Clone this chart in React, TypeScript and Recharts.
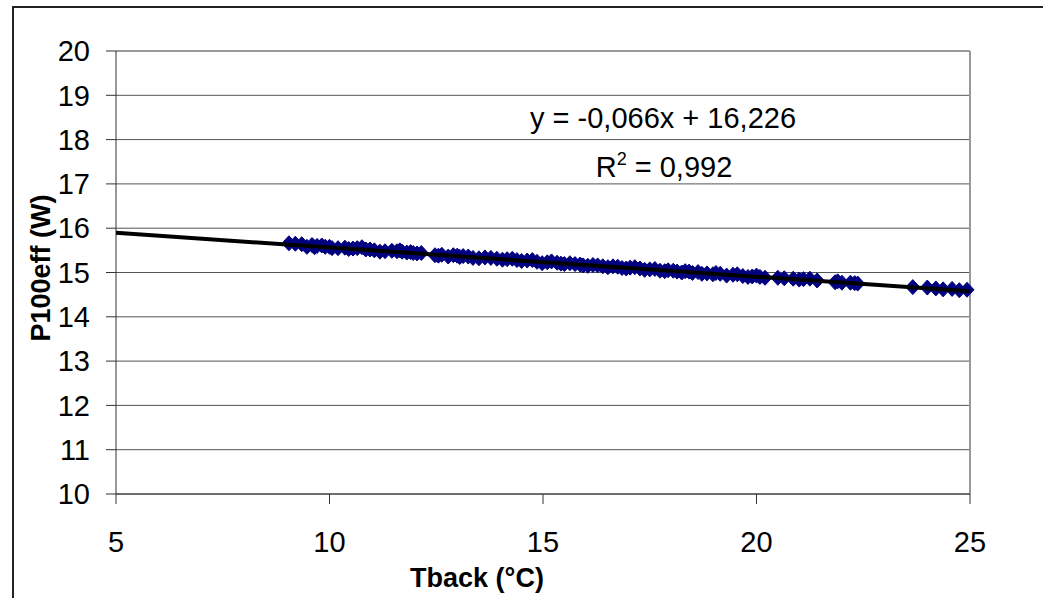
import React from "react";
import { ScatterChart, Scatter, XAxis, YAxis, CartesianGrid, ReferenceLine } from "recharts";

const tbackValues = [
  9.05, 9.2, 9.47, 9.59, 9.71, 9.82, 9.9, 10.06, 10.36, 10.55, 10.76, 10.95, 11.18, 11.46, 11.58, 11.7,
  11.81, 11.96, 12.05, 12.47, 12.63, 12.78, 12.99, 13.13, 13.36, 13.64, 13.92, 14.16, 14.39, 14.63, 14.86,
  15.1, 15.33, 15.5, 15.63, 15.87, 15.94, 16.17, 16.4, 16.64, 16.85, 17.04, 17.27, 17.5, 17.74, 17.93,
  18.14, 18.33, 18.5, 18.63, 18.84, 18.98, 19.15, 19.45, 19.68, 19.9, 20.08, 20.5, 20.86, 21.1, 21.42,
  21.84, 22.0, 22.3, 22.37, 23.66, 24.0, 24.37, 24.58, 24.93,
  9.35, 9.65, 10.0, 10.2, 10.45, 10.65, 10.85, 11.05, 11.3, 11.65, 11.9, 12.15, 12.55, 12.9, 13.05, 13.25,
  13.5, 13.78, 14.05, 14.28, 14.5, 14.75, 14.98, 15.2, 15.42, 15.75, 16.05, 16.28, 16.52, 16.75, 16.95,
  17.15, 17.38, 17.62, 17.85, 18.05, 18.25, 18.42, 18.72, 19.05, 19.3, 19.55, 19.8, 20.0, 20.2, 20.65,
  21.0, 21.25, 21.9, 22.2, 24.2, 24.75,
];
const powerValues = [
  15.66, 15.65, 15.58, 15.62, 15.6, 15.61, 15.58, 15.55, 15.56, 15.54, 15.57, 15.52, 15.47, 15.49, 15.48, 15.47,
  15.45, 15.44, 15.43, 15.39, 15.4, 15.36, 15.38, 15.37, 15.33, 15.34, 15.31, 15.3, 15.28, 15.27, 15.24,
  15.23, 15.22, 15.19, 15.21, 15.18, 15.16, 15.17, 15.14, 15.14, 15.1, 15.11, 15.09, 15.07, 15.04, 15.05,
  15.02, 15.03, 14.99, 15.01, 14.98, 14.96, 14.97, 14.95, 14.92, 14.91, 14.9, 14.88, 14.86, 14.85, 14.82,
  14.78, 14.77, 14.76, 14.75, 14.67, 14.66, 14.62, 14.63, 14.61,
  15.64, 15.57, 15.58, 15.55, 15.53, 15.55, 15.52, 15.5, 15.48, 15.5, 15.46, 15.44, 15.38, 15.39, 15.35, 15.36,
  15.32, 15.33, 15.29, 15.31, 15.26, 15.28, 15.21, 15.25, 15.2, 15.19, 15.15, 15.16, 15.12, 15.13, 15.09,
  15.12, 15.06, 15.08, 15.03, 15.04, 15.0, 15.02, 14.97, 14.99, 14.93, 14.96, 14.9, 14.93, 14.88, 14.87,
  14.84, 14.86, 14.8, 14.77, 14.64, 14.6,
];
const trendX = [5, 25];
const trendY = [15.896, 14.576];
const xTicks = [5, 10, 15, 20, 25];
const yTicks = [10, 11, 12, 13, 14, 15, 16, 17, 18, 19, 20];
const equationText = "y = -0,066x + 16,226";
const r2Text = " = 0,992";
const xTitle = "Tback (°C)";
const yTitle = "P100eff (W)";

const points = tbackValues.map((x, i) => ({ x, y: powerValues[i] }));
const trend = trendX.map((x, i) => ({ x, y: trendY[i] }));

const FONT = "Arial, 'Liberation Sans', sans-serif";

const Diamond = (props: any) => {
  const { cx, cy } = props;
  if (cx == null || cy == null) return <g />;
  return (
    <path
      d={`M${cx},${cy - 7.5}L${cx + 7},${cy}L${cx},${cy + 7.5}L${cx - 7},${cy}Z`}
      fill="#000080"
      stroke="#000080"
      strokeWidth={1}
    />
  );
};

const NoShape = () => <g />;

export default function App() {
  return (
    <div style={{ position: "absolute", left: 0, top: 0, width: 1043, height: 598, overflow: "hidden", background: "#fff" }}>
      <div
        style={{
          position: "absolute",
          left: 12,
          top: 6,
          width: 1031,
          height: 592,
          boxSizing: "border-box",
          borderTop: "2px solid #222",
          borderLeft: "2px solid #222",
        }}
      />
      <div style={{ position: "absolute", left: 0, top: 0 }}>
        <ScatterChart width={1043} height={598} margin={{ top: 51, right: 73, bottom: 4, left: 0 }}>
          <CartesianGrid vertical={false} stroke="#555" strokeWidth={1} />
          <XAxis
            type="number"
            dataKey="x"
            domain={[5, 25]}
            ticks={xTicks}
            height={100}
            tickSize={10}
            tickMargin={27}
            stroke="#333"
            tick={{ fill: "#000", fontSize: 29, fontFamily: FONT }}
            label={{
              content: () => (
                <text
                  x={477}
                  y={587}
                  textAnchor="middle"
                  fontSize={27}
                  fontWeight="bold"
                  fontFamily={FONT}
                  fill="#000"
                >
                  {xTitle}
                </text>
              ),
            }}
          />
          <YAxis
            type="number"
            dataKey="y"
            domain={[10, 20]}
            ticks={yTicks}
            width={116}
            tickSize={10}
            tickMargin={16}
            stroke="#333"
            tick={{ fill: "#000", fontSize: 29, fontFamily: FONT }}
            label={{
              content: () => (
                <text
                  x={50}
                  y={268}
                  transform={`rotate(-90, 50, 268)`}
                  textAnchor="middle"
                  fontSize={27}
                  fontWeight="bold"
                  fontFamily={FONT}
                  fill="#000"
                >
                  {yTitle}
                </text>
              ),
            }}
          />
          <ReferenceLine y={20} stroke="#999" strokeWidth={2} />
          <ReferenceLine x={25} stroke="#999" strokeWidth={2} />
          <Scatter data={points} shape={Diamond} isAnimationActive={false} />
          <Scatter
            data={trend}
            shape={NoShape}
            line={{ stroke: "#000", strokeWidth: 4 }}
            isAnimationActive={false}
          />
        </ScatterChart>
      </div>
      <svg
        width={1043}
        height={598}
        style={{ position: "absolute", left: 0, top: 0, pointerEvents: "none" }}
      >
        <text x={663} y={128} textAnchor="middle" fontSize={29} fontFamily={FONT} fill="#000">
          {equationText}
        </text>
        <text x={664} y={177} textAnchor="middle" fontSize={29} fontFamily={FONT} fill="#000">
          R
          <tspan fontSize={18} dy={-12}>2</tspan>
          <tspan dy={12}>{r2Text}</tspan>
        </text>
      </svg>
    </div>
  );
}
